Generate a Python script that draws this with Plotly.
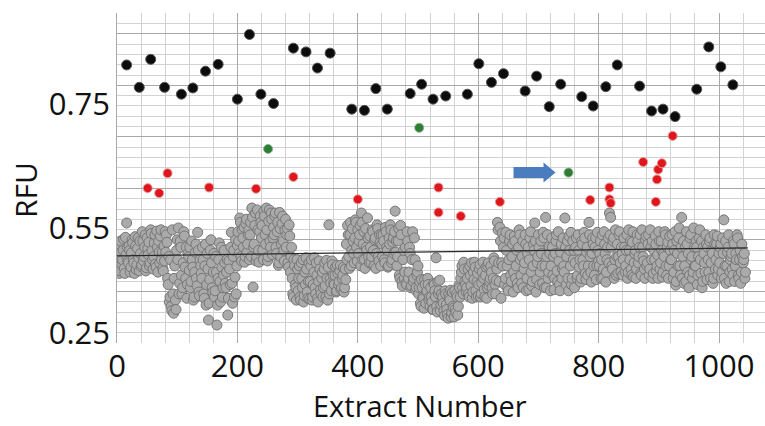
import numpy as np
import plotly.graph_objects as go

# ---------------- data ----------------
x_tick_vals = [0, 200, 400, 600, 800, 1000]
x_tick_text = ["0", "200", "400", "600", "800", "1000"]
# printed y labels (the printed 0.25 label sits where the scale gives ~0.382)
y_tick_vals = [0.75, 0.55, 0.3821]
y_tick_text = ["0.75", "0.55", "0.25"]

black_x = [16, 37, 56, 79, 107, 126, 147, 168, 200, 220, 239, 260, 293, 314, 333, 354,
           390, 411, 430, 449, 487, 506, 525, 546, 582, 601, 622, 642, 678, 697, 718, 737,
           772, 791, 812, 831, 868, 888, 907, 927, 963, 983, 1003, 1023]
black_y = [0.813, 0.777, 0.822, 0.777, 0.766, 0.776, 0.803, 0.814, 0.758, 0.862, 0.766,
           0.751, 0.840, 0.834, 0.808, 0.832, 0.742, 0.740, 0.775, 0.742, 0.767, 0.782,
           0.758, 0.763, 0.766, 0.815, 0.785, 0.799, 0.771, 0.795, 0.746, 0.782, 0.762,
           0.747, 0.778, 0.813, 0.779, 0.739, 0.742, 0.730, 0.774, 0.842, 0.810, 0.781]

red_x = [51, 70, 84, 153, 231, 293, 400, 534, 534, 571, 636, 786, 818, 818, 820, 874,
         895, 897, 899, 905, 923]
red_y = [0.615, 0.607, 0.639, 0.616, 0.614, 0.633, 0.597, 0.616, 0.576, 0.570, 0.593,
         0.596, 0.616, 0.597, 0.591, 0.657, 0.593, 0.629, 0.645, 0.655, 0.699]

green_x = [251, 502, 750]
green_y = [0.678, 0.712, 0.640]

trend_x = [0, 1048]
trend_y = [0.506, 0.519]

# gray extracts: milli-RFU, 10 values per block of 20 extracts
# even extract numbers (2, 4, ..., 20 in the first block)
gray_rows_even = [
    [505, 478, 530, 492, 515, 486, 536, 559, 498, 522],
    [480, 511, 527, 495, 537, 484, 518, 503, 530, 489],
    [545, 498, 520, 482, 535, 508, 490, 548, 515, 485],
    [527, 493, 546, 480, 512, 538, 500, 486, 522, 545],
    [540, 470, 505, 440, 425, 548, 414, 490, 420, 532],
    [551, 462, 520, 445, 495, 538, 470, 438, 510, 483],
    [455, 530, 488, 440, 512, 470, 544, 448, 500, 478],
    [520, 445, 490, 427, 510, 403, 468, 532, 455, 480],
    [440, 505, 395, 470, 527, 432, 488, 455, 515, 462],
    [480, 411, 498, 460, 544, 430, 515, 472, 445, 523],
    [530, 567, 505, 548, 520, 496, 558, 512, 540, 500],
    [560, 583, 456, 525, 575, 505, 548, 496, 570, 535],
    [515, 578, 540, 583, 498, 562, 530, 575, 508, 552],
    [570, 520, 545, 491, 576, 505, 558, 530, 498, 565],
    [540, 495, 556, 480, 520, 445, 500, 460, 435, 485],
    [470, 440, 495, 455, 432, 480, 503, 448, 465, 437],
    [490, 435, 460, 503, 445, 475, 432, 498, 452, 470],
    [440, 485, 458, 499, 435, 556, 470, 450, 492, 462],
    [475, 448, 491, 460, 482, 452, 470, 488, 455, 468],
    [500, 540, 486, 560, 515, 530, 495, 564, 520, 548],
    [530, 555, 575, 500, 545, 486, 520, 567, 505, 538],
    [495, 548, 515, 532, 486, 556, 505, 540, 490, 525],
    [540, 500, 552, 520, 488, 535, 556, 495, 528, 510],
    [578, 530, 505, 550, 470, 540, 458, 515, 480, 462],
    [545, 470, 520, 455, 500, 465, 535, 451, 475, 490],
    [455, 430, 468, 440, 422, 460, 448, 470, 435, 425],
    [440, 420, 462, 450, 503, 416, 445, 467, 428, 435],
    [430, 410, 445, 420, 406, 438, 451, 415, 425, 408],
    [420, 445, 411, 459, 440, 480, 455, 496, 465, 448],
    [470, 445, 490, 458, 438, 480, 496, 450, 465, 442],
    [485, 440, 462, 496, 452, 475, 438, 490, 458, 470],
    [480, 445, 503, 460, 467, 560, 495, 552, 438, 543],
    [520, 460, 544, 490, 450, 530, 475, 505, 448, 538],
    [470, 515, 455, 548, 500, 462, 530, 485, 540, 450],
    [510, 452, 535, 480, 465, 525, 559, 448, 495, 540],
    [460, 530, 490, 544, 455, 568, 505, 470, 520, 450],
    [535, 475, 452, 510, 540, 465, 498, 450, 525, 485],
    [490, 567, 460, 530, 450, 515, 544, 470, 500, 455],
    [520, 470, 540, 488, 464, 530, 500, 544, 478, 512],
    [475, 560, 505, 464, 535, 490, 520, 468, 544, 498],
    [510, 470, 540, 485, 525, 464, 500, 535, 575, 568],
    [490, 530, 470, 548, 505, 478, 540, 495, 520, 475],
    [535, 480, 515, 470, 548, 500, 485, 528, 472, 510],
    [470, 540, 495, 520, 478, 548, 505, 485, 532, 490],
    [525, 475, 548, 500, 470, 515, 538, 482, 508, 545],
    [485, 530, 472, 510, 545, 490, 520, 470, 538, 500],
    [540, 470, 515, 459, 530, 490, 551, 475, 568, 505],
    [462, 520, 545, 480, 455, 535, 500, 470, 551, 490],
    [530, 460, 505, 548, 478, 455, 520, 495, 540, 468],
    [500, 530, 470, 515, 462, 540, 485, 525, 475, 510],
    [520, 470, 535, 564, 490, 462, 512, 540, 480, 505],
    [485, 530, 465, 510, 540, 475, 500, 462, 525, 495],
    [510, 480],
]
# odd extract numbers (1, 3, ..., 19 in the first block)
gray_rows_odd = [
    [490, 525, 482, 512, 500, 533, 478, 508, 520, 495],
    [515, 488, 532, 500, 478, 522, 492, 535, 482, 510],
    [492, 530, 505, 540, 487, 518, 528, 495, 542, 500],
    [505, 540, 488, 520, 530, 495, 548, 512, 482, 498],
    [512, 528, 460, 432, 500, 418, 445, 470, 435, 515],
    [500, 445, 530, 475, 455, 545, 488, 520, 460, 505],
    [520, 465, 500, 435, 480, 525, 458, 515, 442, 490],
    [470, 500, 438, 525, 460, 485, 430, 515, 495, 448],
    [510, 450, 480, 427, 500, 465, 520, 440, 475, 495],
    [455, 500, 438, 485, 520, 462, 505, 440, 532, 490],
    [545, 510, 560, 498, 535, 552, 505, 565, 525, 548],
    [540, 505, 568, 520, 555, 498, 580, 515, 545, 560],
    [555, 500, 570, 525, 548, 505, 580, 520, 565, 535],
    [540, 575, 510, 560, 495, 550, 525, 570, 515, 548],
    [520, 550, 488, 538, 505, 470, 440, 490, 455, 500],
    [450, 490, 435, 470, 500, 442, 460, 485, 438, 495],
    [465, 500, 440, 480, 455, 495, 438, 465, 485, 445],
    [480, 455, 495, 440, 470, 488, 445, 462, 498, 475],
    [460, 488, 450, 478, 465, 491, 455, 475, 448, 485],
    [525, 555, 505, 540, 490, 550, 510, 535, 560, 498],
    [510, 540, 490, 560, 525, 500, 550, 515, 535, 495],
    [520, 505, 545, 490, 535, 510, 550, 498, 528, 540],
    [505, 530, 495, 545, 515, 490, 525, 548, 500, 535],
    [545, 512, 490, 530, 475, 555, 465, 500, 470, 520],
    [460, 530, 480, 510, 458, 545, 470, 500, 455, 480],
    [445, 465, 425, 455, 438, 468, 430, 450, 460, 440],
    [455, 432, 420, 460, 440, 425, 465, 450, 418, 445],
    [440, 418, 450, 428, 412, 445, 435, 408, 448, 422],
    [450, 415, 440, 425, 455, 470, 490, 445, 485, 460],
    [455, 485, 440, 475, 495, 448, 468, 488, 440, 478],
    [460, 492, 445, 480, 470, 440, 488, 455, 495, 465],
    [490, 455, 470, 498, 445, 485, 548, 465, 530, 495],
    [490, 535, 470, 515, 455, 500, 540, 465, 525, 480],
    [530, 490, 462, 520, 540, 475, 505, 455, 495, 525],
    [470, 520, 500, 545, 458, 490, 515, 530, 468, 505],
    [520, 480, 510, 462, 535, 490, 455, 540, 480, 510],
    [490, 520, 505, 470, 530, 482, 545, 460, 512, 470],
    [535, 480, 520, 505, 470, 538, 490, 460, 530, 515],
    [495, 535, 475, 515, 500, 470, 525, 490, 535, 468],
    [520, 490, 540, 480, 510, 525, 475, 535, 490, 515],
    [490, 530, 500, 470, 545, 510, 480, 520, 495, 540],
    [520, 485, 535, 500, 475, 525, 505, 545, 480, 510],
    [500, 520, 490, 540, 480, 515, 530, 475, 545, 495],
    [515, 485, 530, 505, 540, 475, 520, 498, 470, 538],
    [495, 540, 485, 520, 530, 478, 500, 525, 490, 470],
    [530, 495, 515, 480, 505, 540, 475, 528, 490, 515],
    [500, 525, 480, 545, 465, 510, 535, 490, 520, 470],
    [530, 490, 465, 525, 510, 475, 540, 505, 480, 520],
    [490, 520, 475, 535, 500, 530, 465, 510, 480, 525],
    [520, 480, 535, 495, 510, 470, 525, 500, 538, 485],
    [495, 525, 480, 510, 470, 530, 490, 520, 465, 500],
    [510, 475, 525, 490, 500, 535, 470, 515, 480, 505],
    [500, 470],
]

# ---------------- build ----------------
gray_even = np.array([v for row in gray_rows_even for v in row]) / 1000.0
gray_odd = np.array([v for row in gray_rows_odd for v in row]) / 1000.0
gray_x = np.concatenate([np.arange(1, len(gray_even) + 1) * 2,
                         np.arange(1, len(gray_odd) + 1) * 2 - 1])
gray_y = np.concatenate([gray_even, gray_odd])
order = np.argsort(gray_x)
gray_x, gray_y = gray_x[order], gray_y[order]

Y_MIN, Y_MAX = 0.3661, 0.8965
X_MAX = 1076.4
minor_step = (0.8962 - Y_MIN) / 32.0

FONT = "Open Sans"
MAJOR_GRID = "#a9a9a9"
MINOR_GRID = "#d3d3d3"
TEXT = "#111111"

fig = go.Figure()

fig.add_trace(go.Scatter(
    x=gray_x, y=gray_y, mode="markers", xaxis="x", yaxis="y",
    marker=dict(size=10, color="#aaaaaa", line=dict(width=1, color="#767676")),
    hoverinfo="skip", showlegend=False))

fig.add_trace(go.Scatter(
    x=trend_x, y=trend_y, mode="lines", xaxis="x", yaxis="y2",
    line=dict(color="#2a2a2a", width=1.2), showlegend=False))

fig.add_trace(go.Scatter(
    x=black_x, y=black_y, mode="markers", xaxis="x", yaxis="y2",
    marker=dict(size=10, color="#0c0c0c", line=dict(width=1, color="#555555")),
    showlegend=False))

fig.add_trace(go.Scatter(
    x=red_x, y=red_y, mode="markers", xaxis="x", yaxis="y2",
    marker=dict(size=9, color="#e0161e", line=dict(width=1, color="#e89a96")),
    showlegend=False))

fig.add_trace(go.Scatter(
    x=green_x, y=green_y, mode="markers", xaxis="x", yaxis="y2",
    marker=dict(size=9, color="#2f7d34", line=dict(width=1, color="#86b389")),
    showlegend=False))

# block arrow pointing at the third green extract
arrow_path = "M -55,-5.5 L -25,-5.5 L -25,-10 L -13,0 L -25,10 L -25,5.5 L -55,5.5 Z"
fig.add_shape(type="path", xref="x", yref="y2",
              xsizemode="pixel", ysizemode="pixel",
              xanchor=green_x[2], yanchor=green_y[2],
              path=arrow_path, fillcolor="#4a7cc0", line=dict(width=0), layer="above")

fig.update_layout(
    width=765, height=426,
    margin=dict(l=117, r=0, t=13, b=83),
    paper_bgcolor="white", plot_bgcolor="white",
    showlegend=False,
    font=dict(family=FONT, color=TEXT),
    xaxis=dict(
        range=[0, X_MAX], tickvals=x_tick_vals, ticktext=x_tick_text,
        showgrid=True, gridcolor=MAJOR_GRID, gridwidth=1.3,
        minor=dict(tick0=0, dtick=40, showgrid=True, gridcolor=MINOR_GRID, gridwidth=1),
        zeroline=False, showline=False, automargin=False,
        ticks="", ticklabelstandoff=2,
        tickfont=dict(family=FONT, size=31, color=TEXT),
        fixedrange=True),
    yaxis=dict(
        range=[Y_MIN, Y_MAX], tick0=Y_MIN, dtick=5 * minor_step,
        showgrid=True, gridcolor=MAJOR_GRID, gridwidth=1.3,
        minor=dict(tick0=Y_MIN, dtick=minor_step, showgrid=True,
                   gridcolor=MINOR_GRID, gridwidth=1),
        showticklabels=False, ticks="", zeroline=False, showline=True,
        linecolor=MAJOR_GRID, automargin=False, fixedrange=True),
    yaxis2=dict(
        range=[Y_MIN, Y_MAX], overlaying="y", side="left", anchor="x",
        tickvals=y_tick_vals, ticktext=y_tick_text,
        showgrid=False, zeroline=False, ticks="", showline=False,
        tickfont=dict(family=FONT, size=31, color=TEXT), automargin=False,
        ticklabelstandoff=6, fixedrange=True),
    annotations=[
        dict(text="RFU", xref="paper", yref="paper", x=(25 - 117) / 648,
             y=(343 - 190) / 330, textangle=-90, showarrow=False,
             xanchor="center", yanchor="middle",
             font=dict(family=FONT, size=30, color=TEXT)),
        dict(text="Extract Number", xref="paper", yref="paper", x=(420 - 117) / 648,
             y=(343 - 426) / 330, showarrow=False, xanchor="center", yanchor="bottom",
             borderpad=0, font=dict(family=FONT, size=29, color=TEXT)),
    ],
)

fig.write_html("out.html")
